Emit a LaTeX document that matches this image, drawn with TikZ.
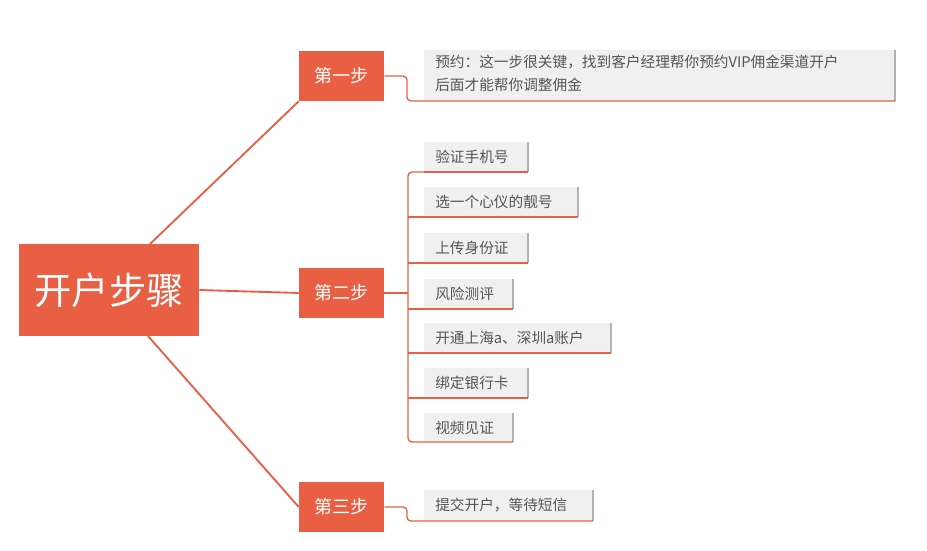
\documentclass[tikz,border=0pt]{standalone}
\usepackage{fontspec}
\setmainfont{Noto Sans CJK SC}
\begin{document}
\definecolor{org}{HTML}{E95F43}
\definecolor{leaff}{HTML}{F0F0F0}
\definecolor{leaft}{HTML}{555555}
\begin{tikzpicture}[x=0.75pt,y=-0.75pt,
  stepbox/.style={fill=org,text=white,minimum width=63.75pt,minimum height=37.5pt,font=\fontsize{13.5}{16}\selectfont,inner sep=0},
  leafbox/.style={fill=leaff,text=leaft,anchor=north west,font=\fontsize{11}{15}\selectfont,align=left,inner sep=0,text width=#1},
  conn/.style={draw=org,line width=1.4pt},
  br/.style={draw=org,line width=1pt,rounded corners=3pt}]
\useasboundingbox (0,0) rectangle (927,550);
\node[fill=org,text=white,minimum width=135pt,minimum height=69pt,font=\fontsize{28}{32}\selectfont,inner sep=0] (root) at (109,290) {开户步骤};
\node[stepbox] (s1) at (341.5,76) {第一步};
\node[stepbox] (s2) at (341.5,293) {第二步};
\node[stepbox] (s3) at (341.5,507) {第三步};
\draw[conn] (150,244) -- (s1.south west);
\draw[conn] (root.east) -- (s2.west);
\draw[conn] (148,336) -- (s3.west);
% leaves
\newcommand{\leaf}[5]{%
  \fill[leaff] (424,#1) rectangle (#2,#3);
  \draw[gray!60,line width=1pt] (#2,#1) -- (#2,#3);
  \node[text=leaft,anchor=west,font=\fontsize{11}{15}\selectfont,inner sep=0] (#4) at (435,{(#1+#3)/2}) {#5};}
\fill[leaff] (424,50) rectangle (895,101);
\draw[gray!60,line width=1pt] (895,50) -- (895,101);
\node[text=leaft,anchor=north west,align=left,font=\fontsize{11}{17}\selectfont,inner sep=0] (l1) at (435,55) {预约：这一步很关键，找到客户经理帮你预约VIP佣金渠道开户\\后面才能帮你调整佣金};
\draw[br] (s1.east) -- (407,76) -- (407,101) -- (895,101);
\leaf{142}{528}{172}{a}{验证手机号}
\leaf{187}{578}{217}{b}{选一个心仪的靓号}
\leaf{233}{528}{263}{c}{上传身份证}
\leaf{279}{513}{309}{d}{风险测评}
\leaf{323}{611}{353}{e}{开通上海a、深圳a账户}
\leaf{368}{528}{398}{f}{绑定银行卡}
\leaf{413}{513}{442}{g}{视频见证}
\draw[conn,line width=1pt] (s2.east) -- (408,293);
\draw[br] (424,172) -- (408,172) -- (408,442) -- (513,442);
\foreach \y/\r in {217/578,263/528,309/513,353/611,398/528} \draw[br] (408,\y) -- (\r,\y);
\draw[org,line width=1pt] (424,172) -- (528,172);
\leaf{490}{593}{521}{h}{提交开户，等待短信}
\draw[br] (s3.east) -- (407,507) -- (407,521) -- (593,521);
\end{tikzpicture}
\end{document}
